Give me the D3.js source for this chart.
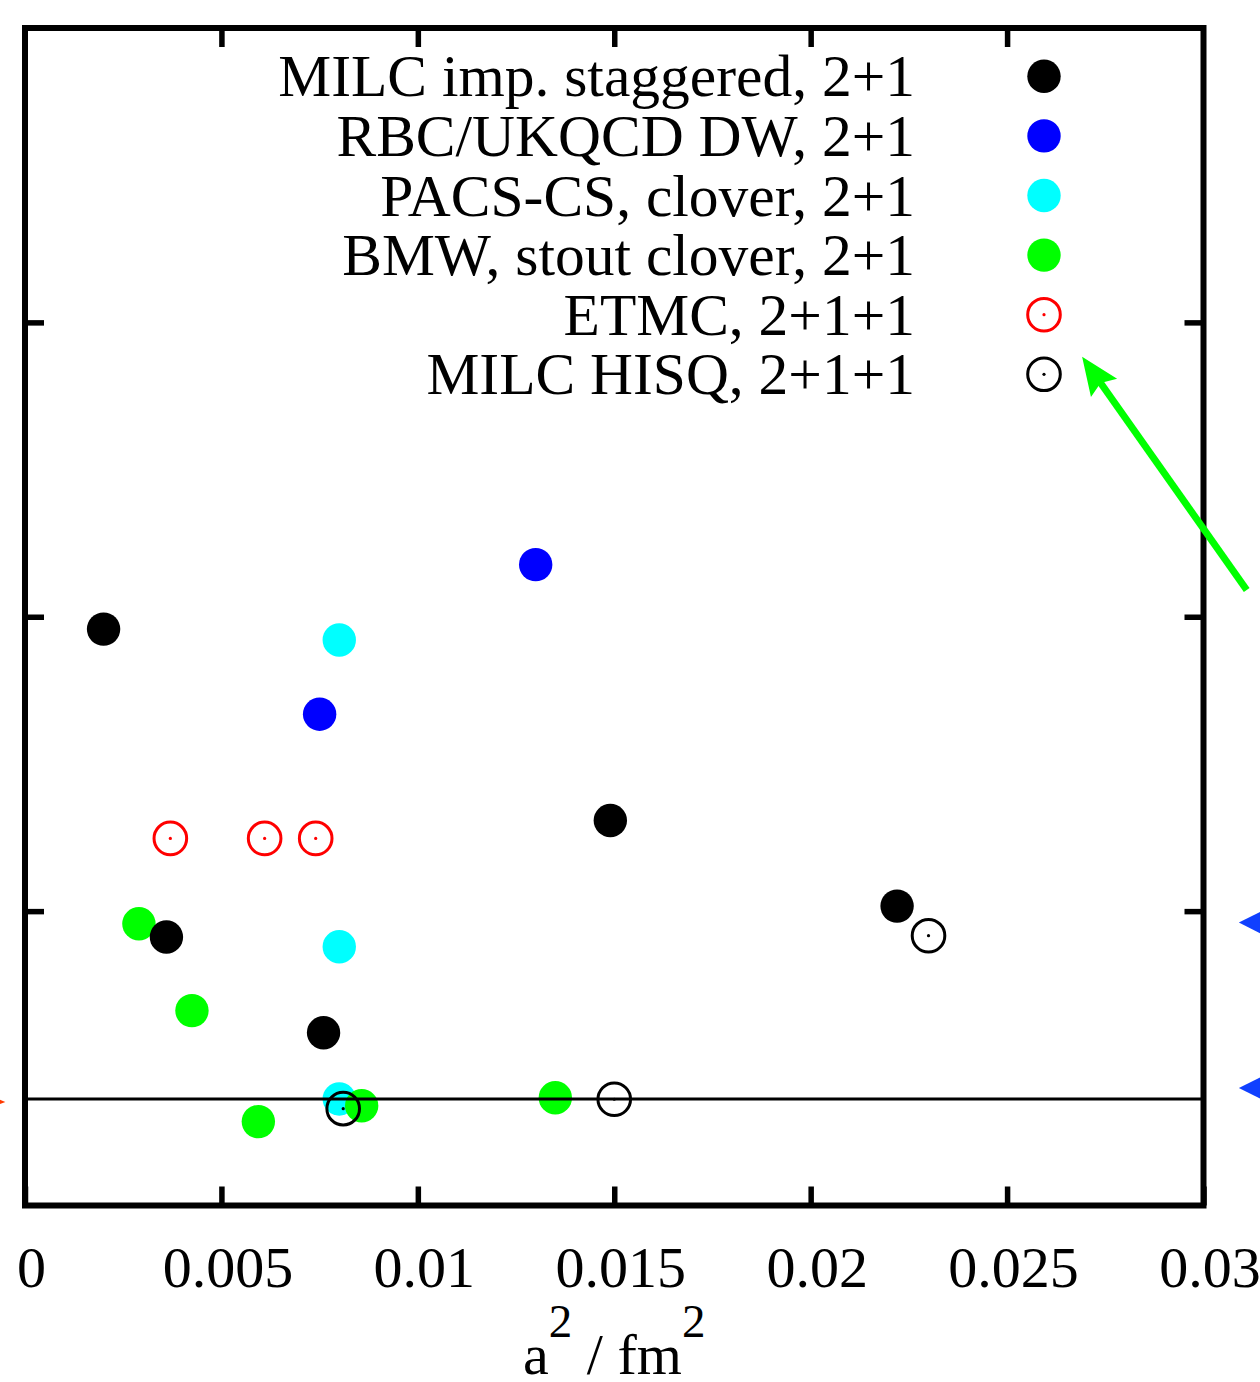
<!DOCTYPE html>
<html>
  <meta charset="utf-8">
  <style>
  body { margin: 0; background: #fff; }
  .tick line { stroke: #000; stroke-width: 5.5; }
  .axis text { font-family: "Liberation Serif", serif; font-size: 58px; fill: #000; }
  .legend text { font-family: "Liberation Serif", serif; font-size: 59.5px; fill: #000; }
  </style>
  <head>
    <script src="https://d3js.org/d3.v7.min.js"></script>
  </head>
  <body>
    <script>
      // x: a^2 in fm^2, y: arbitrary units (the y tick labels are cut off in the picture)
      var milcStag  = [[0.0020, 1.958], [0.0036, 0.912], [0.0076, 0.587], [0.0149, 1.308], [0.0222, 1.017]];
      var rbcDW     = [[0.0130, 2.177], [0.0075, 1.669]];
      var pacsCS    = [[0.0080, 1.921], [0.0080, 0.879], [0.0080, 0.362]];
      var bmw       = [[0.0029, 0.957], [0.00425, 0.662], [0.00594, 0.285], [0.00857, 0.339], [0.0135, 0.366]];
      var etmc      = [[0.0037, 1.247], [0.0061, 1.247], [0.0074, 1.247]];
      var milcHisq  = [[0.0081, 0.329], [0.0150, 0.361], [0.0230, 0.9165]];
      var refValue  = 0.362;
      // markers sitting outside the frame (cut off at the picture edge)
      var leftMarks  = [[-0.0005, 0.352]];
      var rightMarks = [[0.0309, 0.961], [0.0309, 0.399]];
      var arrowFrom  = [0.0311, 2.091];
      var arrowTo    = [0.02691, 2.883];

      var xTicks = [0, 0.005, 0.01, 0.015, 0.02, 0.025, 0.03];
      var xTickLabels = ["0", "0.005", "0.01", "0.015", "0.02", "0.025", "0.03"];
      var yTicks = [1, 2, 3];

      var legendNames = ["MILC imp. staggered, 2+1", "RBC/UKQCD DW, 2+1", "PACS-CS, clover, 2+1",
                         "BMW, stout clover, 2+1", "ETMC, 2+1+1", "MILC HISQ, 2+1+1"];
      var legendColors = ["#000", "#0000ff", "#00ffff", "#00ff00", "#ff0000", "#000"];
      var legendOpen = [false, false, false, false, true, true];

      var width = 1260,
          height = 1382;

      var x = d3.scaleLinear().domain([0, 0.03]).range([25, 1203.5]);
      var y = d3.scaleLinear().domain([0, 4]).range([1205.5, 28]);

      var svg = d3.select("body").append("svg")
          .attr("width", width)
          .attr("height", height);

      // axes, ticks inward
      var gb = svg.append("g").attr("class", "axis")
          .attr("transform", "translate(0," + y(0) + ")")
          .call(d3.axisBottom(x).tickValues(xTicks).tickSize(-19)
                .tickFormat(function(d, i) { return xTickLabels[i]; }));
      gb.selectAll("text").attr("y", 81).attr("dy", null).attr("x", 6)
          .style("font-family", "Liberation Serif").style("font-size", "58px");
      svg.append("g").attr("class", "axis")
          .attr("transform", "translate(0," + y(4) + ")")
          .call(d3.axisTop(x).tickValues(xTicks.slice(1, -1)).tickSize(-19).tickFormat(""));
      svg.append("g").attr("class", "axis")
          .attr("transform", "translate(" + x(0) + ",0)")
          .call(d3.axisLeft(y).tickValues(yTicks).tickSize(-19).tickFormat(""));
      svg.append("g").attr("class", "axis")
          .attr("transform", "translate(" + x(0.03) + ",0)")
          .call(d3.axisRight(y).tickValues(yTicks).tickSize(-19).tickFormat(""));
      svg.selectAll(".axis .domain").remove();

      // axis title with superscripts
      var title = svg.append("text")
          .attr("x", (x(0) + x(0.03)) / 2)
          .attr("y", 1374)
          .attr("text-anchor", "middle")
          .style("font-family", "Liberation Serif")
          .style("font-size", "58px");
      title.append("tspan").text("a");
      title.append("tspan").attr("dy", -37).style("font-size", "47px").text("2");
      title.append("tspan").attr("dy", 37).text(" / fm");
      title.append("tspan").attr("dy", -37).style("font-size", "47px").text("2");

      function filled(data, color) {
        svg.append("g").selectAll("circle")
          .data(data)
          .enter().append("circle")
          .attr("cx", function(d) { return x(d[0]); })
          .attr("cy", function(d) { return y(d[1]); })
          .attr("r", 16.7)
          .attr("fill", color);
      }

      function open(data, color) {
        var g = svg.append("g").selectAll("g")
          .data(data)
          .enter().append("g")
          .attr("transform", function(d) { return "translate(" + x(d[0]) + "," + y(d[1]) + ")"; });
        g.append("circle").attr("r", 16.3).attr("fill", "none").attr("stroke", color).attr("stroke-width", 3);
        g.append("circle").attr("r", 1.6).attr("fill", color);
      }

      filled(rbcDW, "#0000ff");
      filled(pacsCS, "#00ffff");
      filled(bmw, "#00ff00");
      filled(milcStag, "#000");
      open(etmc, "#ff0000");
      open(milcHisq, "#000");

      // reference line
      svg.append("line")
          .attr("x1", x(0)).attr("x2", x(0.03))
          .attr("y1", y(refValue)).attr("y2", y(refValue))
          .attr("stroke", "#000").attr("stroke-width", 3);

      // frame
      svg.append("rect")
          .attr("x", x(0)).attr("y", y(4))
          .attr("width", x(0.03) - x(0)).attr("height", y(0) - y(4))
          .attr("fill", "none").attr("stroke", "#000").attr("stroke-width", 6);

      // triangles outside the frame
      svg.append("g").selectAll("path")
          .data(leftMarks)
          .enter().append("path")
          .attr("d", function(d) {
            var px = x(d[0]), py = y(d[1]);
            return "M" + px + "," + py + "L" + (px - 30) + "," + (py - 12) + "L" + (px - 30) + "," + (py + 12) + "Z";
          })
          .attr("fill", "#ff3a00");
      svg.append("g").selectAll("path")
          .data(rightMarks)
          .enter().append("path")
          .attr("d", function(d) {
            var px = x(d[0]), py = y(d[1]);
            return "M" + px + "," + py + "L" + (px + 40) + "," + (py - 20) + "L" + (px + 40) + "," + (py + 20) + "Z";
          })
          .attr("fill", "#1040ff");

      // green arrow
      var ax0 = x(arrowFrom[0]), ay0 = y(arrowFrom[1]),
          ax1 = x(arrowTo[0]), ay1 = y(arrowTo[1]);
      var ang = Math.atan2(ay1 - ay0, ax1 - ax0),
          headLen = 38, headW = 16;
      var bx = ax1 - headLen * Math.cos(ang), by = ay1 - headLen * Math.sin(ang);
      svg.append("line")
          .attr("x1", ax0).attr("y1", ay0).attr("x2", bx + 8 * Math.cos(ang)).attr("y2", by + 8 * Math.sin(ang))
          .attr("stroke", "#00ff00").attr("stroke-width", 7);
      svg.append("path")
          .attr("d", "M" + ax1 + "," + ay1 +
                "L" + (bx - headW * Math.sin(ang)) + "," + (by + headW * Math.cos(ang)) +
                "L" + (bx + 6 * Math.cos(ang)) + "," + (by + 6 * Math.sin(ang)) +
                "L" + (bx + headW * Math.sin(ang)) + "," + (by - headW * Math.cos(ang)) + "Z")
          .attr("fill", "#00ff00");

      // legend
      var leg = svg.append("g").attr("class", "legend");
      var rows = leg.selectAll("g")
          .data(legendNames)
          .enter().append("g")
          .attr("transform", function(d, i) { return "translate(0," + (76.3 + i * 59.6) + ")"; });
      rows.append("text")
          .attr("x", 915).attr("y", 20)
          .attr("text-anchor", "end")
          .text(function(d) { return d; });
      rows.each(function(d, i) {
        var r = d3.select(this);
        if (legendOpen[i]) {
          r.append("circle").attr("cx", 1044).attr("r", 16.3).attr("fill", "none")
            .attr("stroke", legendColors[i]).attr("stroke-width", 3);
          r.append("circle").attr("cx", 1044).attr("r", 1.6).attr("fill", legendColors[i]);
        } else {
          r.append("circle").attr("cx", 1044).attr("r", 16.7).attr("fill", legendColors[i]);
        }
      });
    </script>
  </body>
</html>
